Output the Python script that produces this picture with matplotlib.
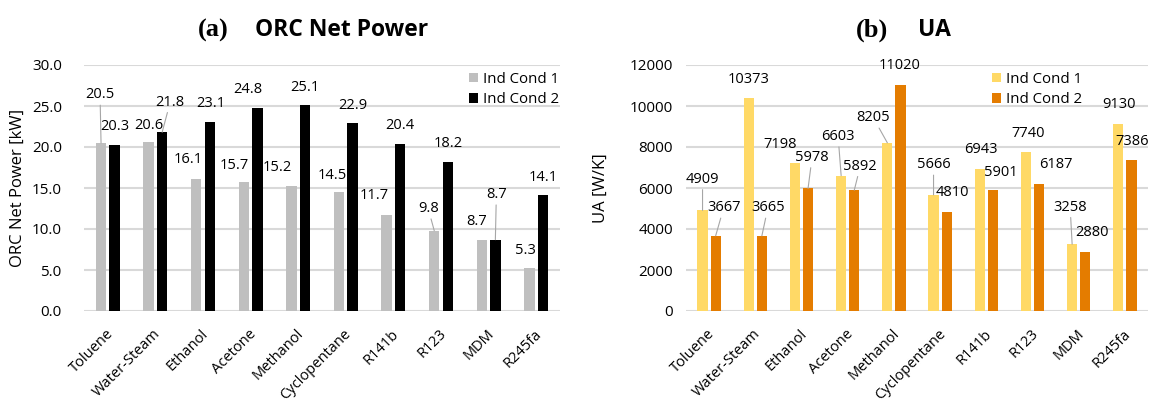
import matplotlib
matplotlib.use("Agg")
import matplotlib.pyplot as plt
import matplotlib.transforms as mtransforms
import numpy as np

plt.rcParams["font.family"] = ["Open Sans", "DejaVu Sans"]
plt.rcParams["font.size"] = 10.5

fluids = ["Toluene", "Water-Steam", "Ethanol", "Acetone", "Methanol",
          "Cyclopentane", "R141b", "R123", "MDM", "R245fa"]
power_cond1 = [20.5, 20.6, 16.1, 15.7, 15.2, 14.5, 11.7, 9.8, 8.7, 5.3]
power_cond2 = [20.3, 21.8, 23.1, 24.8, 25.1, 22.9, 20.4, 18.2, 8.7, 14.1]
ua_cond1 = [4909, 10373, 7198, 6603, 8205, 5666, 6943, 7740, 3258, 9130]
ua_cond2 = [3667, 3665, 5978, 5892, 11020, 4810, 5901, 6187, 2880, 7386]
series_names = ["Ind Cond 1", "Ind Cond 2"]

# label placement: (dx, dy) in pixels from the bar top, and whether a leader line is drawn
power_lbl1 = [(-1, 48, True), (0, 17, False), (-8, 19, False), (-10, 17, False),
              (-14, 19, False), (-7, 17, False), (-12, 20, False), (-6, 22, True),
              (-5, 18, False), (-4, 17, False)]
power_lbl2 = [(0, 18, False), (8, 30, True), (1, 18, False), (-10, 18, False),
              (0, 18, False), (0, 18, False), (0, 18, False), (0, 18, False),
              (1, 45, True), (0, 18, False)]
ua_lbl1 = [(0, 31, True), (0, 19, False), (-15, 19, False), (-3, 39, True),
           (-14, 25, True), (0, 30, True), (1, 19, False), (2, 19, False),
           (-2, 37, True), (1, 19, False)]
ua_lbl2 = [(8, 28, True), (6, 28, True), (4, 31, True), (6, 24, True),
           (-1, 20, False), (6, 20, False), (8, 18, False), (17, 20, False),
           (7, 19, False), (1, 18, False)]

GRID = "#D9D9D9"
LEADER = "#A6A6A6"
W, H = 1153, 401


def px_axes(fig, x0, x1, y_top, y_bottom):
    return fig.add_axes([x0 / W, 1 - y_bottom / H, (x1 - x0) / W, (y_bottom - y_top) / H])


def draw_panel(ax, v1, v2, lbl1, lbl2, colors, ymax, step, fmt, ylabel, ypad):
    x = np.arange(len(fluids))
    off, width = 0.142, 0.22
    b1 = ax.bar(x - off, v1, width, color=colors[0], label=series_names[0], zorder=3)
    b2 = ax.bar(x + off, v2, width, color=colors[1], label=series_names[1], zorder=3)

    for bars, vals, lbls in ((b1, v1, lbl1), (b2, v2, lbl2)):
        for bar, v, (dx, dy, leader) in zip(bars, vals, lbls):
            xc = bar.get_x() + bar.get_width() / 2
            props = None
            if leader:
                props = dict(arrowstyle="-", color=LEADER, lw=0.8,
                             shrinkA=0, shrinkB=0)
            ax.annotate(fmt.format(v), xy=(xc, v), xytext=(dx, dy),
                        textcoords="offset pixels", ha="center", va="center",
                        fontsize=10.5, color="#000000", arrowprops=props, zorder=4)

    ax.set_xlim(-0.5, len(fluids) - 0.5)
    ax.set_ylim(0, ymax)
    ticks = np.arange(0, ymax + step / 2, step)
    ax.set_yticks(ticks)
    if isinstance(step, float):
        ax.set_yticklabels([f"{t:.1f}" for t in ticks])
    else:
        ax.set_yticklabels([f"{int(t)}" for t in ticks])
    ax.yaxis.grid(True, color=GRID, lw=1.5, zorder=0)
    ax.set_axisbelow(True)
    for s in ax.spines.values():
        s.set_visible(False)
    ax.tick_params(axis="both", length=0)
    ax.tick_params(axis="y", pad=ypad, labelsize=11)
    ax.set_xticks(x)
    ax.set_xticklabels(fluids, rotation=45, ha="right", va="top",
                       rotation_mode="anchor", fontsize=10.5)
    ax.tick_params(axis="x", pad=11)
    shift = mtransforms.ScaledTranslation(-2 / 100, 0, ax.figure.dpi_scale_trans)
    for lab in ax.get_xticklabels():
        lab.set_transform(lab.get_transform() + shift)
    ax.set_ylabel(ylabel, fontsize=12)


fig = plt.figure(figsize=(W / 100, H / 100), dpi=100)

ax1 = px_axes(fig, 84, 560, 65, 311)
draw_panel(ax1, power_cond1, power_cond2, power_lbl1, power_lbl2,
           ["#BFBFBF", "#000000"], 30.0, 5.0, "{:.1f}", "ORC Net Power [kW]", 16)
ax1.yaxis.set_label_coords(-0.122, 0.5)
ax1.legend(loc="upper right", bbox_to_anchor=(565 / W, 1 - 66 / H),
           bbox_transform=fig.transFigure, frameon=False, handlelength=0.6,
           handleheight=0.6, handletextpad=0.3, labelspacing=0.35,
           borderaxespad=0, fontsize=10.8)

ax2 = px_axes(fig, 686, 1148, 65, 311)
draw_panel(ax2, ua_cond1, ua_cond2, ua_lbl1, ua_lbl2,
           ["#FFD966", "#E47C00"], 12000, 2000, "{:d}", "UA [W/K]", 9.5)
ax2.yaxis.set_label_coords(-0.167, 0.5)
ax2.legend(loc="upper right", bbox_to_anchor=(1088 / W, 1 - 66 / H),
           bbox_transform=fig.transFigure, frameon=False, handlelength=0.6,
           handleheight=0.6, handletextpad=0.3, labelspacing=0.35,
           borderaxespad=0, fontsize=10.8)

# panel titles: serif letter tag followed by a bold sans heading
ty = 1 - 30 / H
fig.text(229 / W, ty, "(a)", ha="right", va="center", fontsize=19,
         fontweight="bold", family="Liberation Serif")
fig.text(255 / W, ty, "ORC Net Power", ha="left", va="center", fontsize=16.5,
         fontweight="bold")
fig.text(888 / W, ty, "(b)", ha="right", va="center", fontsize=19,
         fontweight="bold", family="Liberation Serif")
fig.text(918 / W, ty, "UA", ha="left", va="center", fontsize=16.5,
         fontweight="bold")

fig.savefig("out.png", dpi=100)
